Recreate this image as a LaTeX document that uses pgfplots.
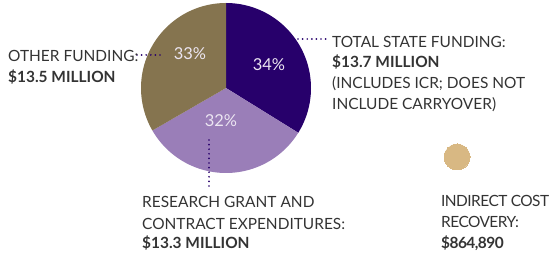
\documentclass[border=0pt]{standalone}
\usepackage{pgfplots}
\usepackage{pgfplotstable}
\pgfplotsset{compat=1.18}
\usepackage{fontspec}
\setmainfont{Lato}
\definecolor{upurple}{HTML}{27006B}
\definecolor{lpurple}{HTML}{9A7EB8}
\definecolor{ubrown}{HTML}{85744F}
\definecolor{utan}{HTML}{D8B883}
\definecolor{txt}{HTML}{333333}
\definecolor{pcttxt}{HTML}{ECE6F2}
\pgfplotstableread{
label value pct
state 13.7 34
research 13.3 32
other 13.5 33
}\piedata
\pgfplotstablegetelem{0}{value}\of\piedata\let\va\pgfplotsretval
\pgfplotstablegetelem{1}{value}\of\piedata\let\vb\pgfplotsretval
\pgfplotstablegetelem{2}{value}\of\piedata\let\vc\pgfplotsretval
\pgfmathsetmacro\tot{\va+\vb+\vc}
\pgfmathsetmacro\aA{90-360*\va/\tot}
\pgfmathsetmacro\aB{\aA-360*\vb/\tot}
\pgfmathsetmacro\aC{\aB-360*\vc/\tot}
\def\cx{226}\def\cy{166}\def\rr{85}
\begin{document}%
\begin{tikzpicture}[
  lbl/.style={font=\fontsize{15.5}{18}\selectfont, text=txt, inner sep=0pt, anchor=base west},
  tight/.style={font=\fontsize{15.5}{18}\selectfont\addfontfeature{LetterSpace=-3.5}},
  pct/.style={font=\fontsize{16.5}{19}\selectfont, text=pcttxt, inner sep=0pt},
]
\path[use as bounding box] (0,0) rectangle (551bp,254bp);
\begin{axis}[
  at={(0,0)}, anchor=south west,
  width=551bp, height=254bp, scale only axis,
  xmin=0, xmax=551, ymin=0, ymax=254,
  axis lines=none, ticks=none, clip=false,
]
\addplot[draw=none, fill=upurple, domain=\aA:90, samples=90, variable=\t]
  ({\cx+\rr*cos(t)},{\cy+\rr*sin(t)}) -- (axis cs:\cx,\cy) -- cycle;
\addplot[draw=none, fill=lpurple, domain=\aB:\aA, samples=90, variable=\t]
  ({\cx+\rr*cos(t)},{\cy+\rr*sin(t)}) -- (axis cs:\cx,\cy) -- cycle;
\addplot[draw=none, fill=ubrown, domain=\aC:\aB, samples=90, variable=\t]
  ({\cx+\rr*cos(t)},{\cy+\rr*sin(t)}) -- (axis cs:\cx,\cy) -- cycle;
% leader lines
\addplot[upurple, line width=1.9bp, line cap=round, dash pattern=on 0pt off 4.6bp]
  coordinates {(137,199) (160,199)};
\addplot[upurple, line width=1.9bp, line cap=round, dash pattern=on 0pt off 4.6bp]
  coordinates {(298,215) (326,215)};
\addplot[upurple, line width=1.9bp, line cap=round, dash pattern=on 0pt off 4.6bp]
  coordinates {(209,114) (209,66)};
% indirect cost recovery marker
\addplot[only marks, mark=*, mark size=13bp, mark options={fill=utan, draw=utan, line width=0pt}]
  coordinates {(457,97)};
% percentages
\node[pct] at (axis cs:190,200) {33\%};
\node[pct] at (axis cs:269,189) {34\%};
\node[pct] at (axis cs:221,133) {32\%};
% labels
\node[lbl] at (axis cs:8,192) {OTHER FUNDING:};
\node[lbl] at (axis cs:8,171) {\bfseries \$13.5 MILLION};
\node[lbl] at (axis cs:332,206) {TOTAL STATE FUNDING:};
\node[lbl] at (axis cs:332,186) {\bfseries \$13.7 MILLION};
\node[lbl] at (axis cs:332,165) {(INCLUDES ICR; DOES NOT};
\node[lbl] at (axis cs:332,144) {INCLUDE CARRYOVER)};
\node[lbl] at (axis cs:142,46) {RESEARCH GRANT AND};
\node[lbl] at (axis cs:142,25) {CONTRACT EXPENDITURES:};
\node[lbl] at (axis cs:142,6) {\bfseries \$13.3 MILLION};
\node[lbl, tight] at (axis cs:441,47) {INDIRECT COST};
\node[lbl, tight] at (axis cs:441,27) {RECOVERY:};
\node[lbl, tight] at (axis cs:441,6) {\bfseries \$864,890};
\end{axis}
\end{tikzpicture}%
\end{document}
